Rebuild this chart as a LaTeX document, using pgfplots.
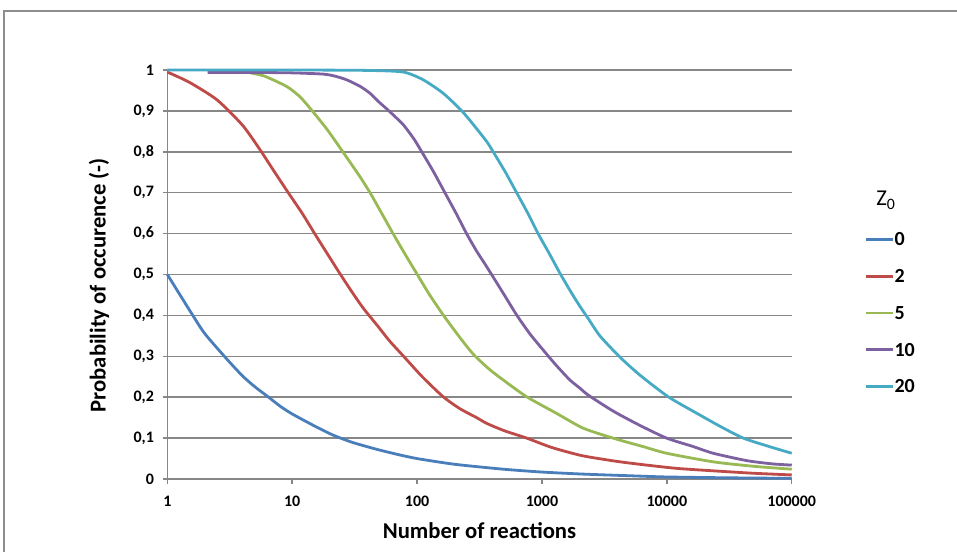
\documentclass[border=0pt]{standalone}
\usepackage{fontspec}
\setmainfont{Carlito}
\usepackage{pgfplots}
\pgfplotsset{compat=1.18}
\definecolor{ZBlue}{HTML}{4A7EBB}
\definecolor{ZRed}{HTML}{BE4B48}
\definecolor{ZGreen}{HTML}{98B954}
\definecolor{ZPurple}{HTML}{7D60A0}
\definecolor{ZCyan}{HTML}{46AAC5}
\definecolor{GridGray}{HTML}{878787}
\definecolor{FrameGray}{HTML}{8E8E8E}

\begin{document}
\begin{tikzpicture}
% page = 957 x 551 px, 1 px = 0.75 pt
\useasboundingbox (0,0) rectangle (717.75pt,-413.25pt);
\draw[FrameGray, line width=0.9pt] (3pt,-8.25pt) rectangle (725pt,-420pt);
\begin{axis}[
 at={(125.5pt,-359.25pt)}, anchor=south west,
 scale only axis, width=468.3pt, height=306.75pt,
 xmode=log, xmin=1, xmax=100000,
 ymin=0, ymax=1,
 axis x line*=bottom, axis y line*=left,
 axis line style={GridGray, line width=1.1pt, -},
 xtick={1,10,100,1000,10000,100000},
 xticklabels={1,10,100,1000,10000,100000},
 xminorticks=false,
 ytick={0,0.1,...,1.01},
 ymajorgrids, grid style={GridGray, line width=1.1pt},
 tick align=outside, major tick length=3.5pt,
 tick style={GridGray, line width=1.1pt},
 /pgf/number format/assume math mode=true,
 ticklabel style={font=\bfseries\fontsize{12}{13}\selectfont},
 yticklabel style={xshift=-3pt, /pgf/number format/.cd, use comma, fixed, precision=1},
 xticklabel style={anchor=north, inner sep=0pt, yshift=-9pt},
 clip=false,
 xlabel={Number of reactions},
 ylabel={Probability of occurence (-)},
 label style={font=\bfseries\fontsize{17}{18}\selectfont},
 xlabel style={at={(axis description cs:0.5,-0.127)}, anchor=center},
 ylabel style={at={(axis description cs:-0.1094,0.474)}, anchor=center},
 legend style={at={(1.117,0.406)}, anchor=west, draw=none, fill=none,
  inner sep=0pt, row sep=18.1pt, column sep=0pt,
  font=\bfseries\fontsize{15}{16}\selectfont,
  nodes={inner sep=0pt, text height=9.5pt, text depth=0pt}},
 legend cell align=left,
 legend image code/.code={\draw[#1] (0pt,0pt) -- (20pt,0pt);},
 every axis plot/.append style={line width=2.1pt, smooth, tension=0.4},
]
\addplot[ZBlue] coordinates {
 (1,0.500) (1.6,0.400) (2,0.355) (3,0.293) (4,0.252) (5,0.226) (6.6,0.198)
 (8,0.178) (10,0.159) (15,0.130) (21,0.108) (30,0.090) (47,0.073) (70,0.060)
 (100,0.050) (200,0.036) (490,0.024) (1000,0.017) (2140,0.012) (5000,0.008)
 (10000,0.005) (30000,0.003) (100000,0.0016)};
\addlegendentry{0}
\addplot[ZRed] coordinates {
 (1,0.995) (1.5,0.970) (2.5,0.927) (4,0.865) (5.5,0.806) (7,0.757) (9.3,0.700)
 (12,0.650) (15.2,0.599) (19,0.552) (24,0.503) (30,0.458) (37,0.418) (49,0.372)
 (60,0.338) (78,0.300) (110,0.250) (162,0.201) (220,0.172) (300,0.150)
 (361,0.136) (500,0.118) (755,0.100) (1200,0.077) (2100,0.057) (4000,0.043)
 (6900,0.034) (12000,0.026) (23500,0.020) (50000,0.014) (100000,0.010)};
\addlegendentry{2}
\addplot[ZGreen] coordinates {
 (4.6,0.993) (6,0.985) (9,0.960) (11.5,0.935) (14.3,0.902) (19,0.855)
 (24.9,0.804) (34.9,0.739) (42,0.700) (49,0.664) (64.5,0.599) (80,0.550)
 (99,0.503) (125,0.452) (162,0.401) (215,0.350) (282,0.305) (380,0.268)
 (490,0.242) (755,0.201) (1300,0.161) (2150,0.124) (4000,0.097) (6500,0.079)
 (9950,0.063) (23500,0.042) (50000,0.031) (100000,0.024)};
\addlegendentry{5}
\addplot[ZPurple] coordinates {
 (2.1,0.994) (5,0.994) (10,0.993) (17.7,0.990) (22,0.985) (27.3,0.976)
 (35,0.960) (42,0.943) (49,0.923) (60,0.899) (77.6,0.866) (95,0.830)
 (109,0.800) (135,0.752) (167,0.700) (205,0.650) (250,0.599) (300,0.557)
 (361,0.519) (490,0.454) (627,0.401) (800,0.355) (1025,0.315) (1300,0.278)
 (1675,0.242) (2015,0.222) (2350,0.205) (3720,0.166) (6000,0.132)
 (9950,0.100) (16000,0.080) (23500,0.063) (43500,0.045) (70000,0.037)
 (100000,0.034)};
\addlegendentry{10}
\addplot[ZCyan] coordinates {
 (1,1.000) (10,1.000) (40,0.999) (77.6,0.995) (112,0.976) (162,0.943)
 (228,0.900) (290,0.862) (361,0.825) (407,0.800) (510,0.750) (627,0.700)
 (770,0.650) (935,0.599) (1150,0.550) (1394,0.503) (1700,0.458) (2015,0.422)
 (2350,0.392) (2910,0.350) (4210,0.298) (6090,0.254) (10260,0.201)
 (17300,0.161) (27000,0.128) (40900,0.100) (65000,0.080) (100000,0.063)};
\addlegendentry{20}
\node[font=\fontsize{17}{18}\selectfont, anchor=center]
 at (rel axis cs:1.151,0.682) {Z\textsubscript{0}};
\end{axis}
\end{tikzpicture}
\end{document}
